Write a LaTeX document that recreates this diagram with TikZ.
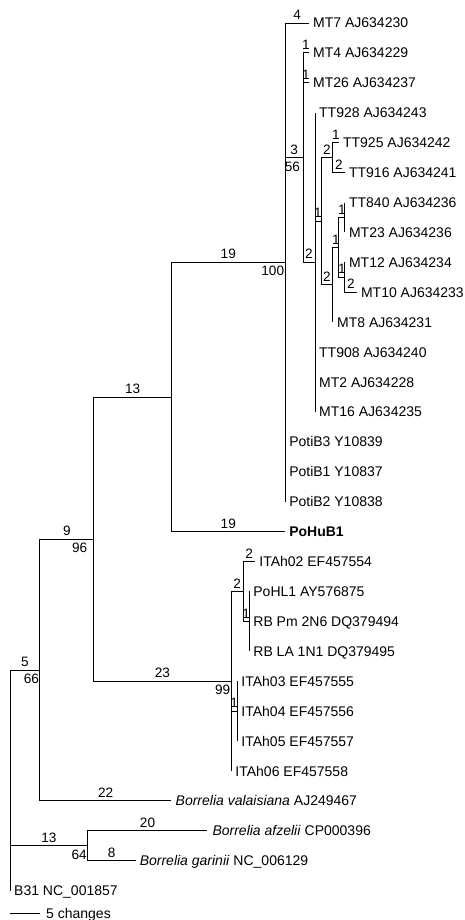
\documentclass[tikz,border=0pt]{standalone}
\usepackage{fontspec}
\setmainfont{Liberation Sans}
\begin{document}
\begin{tikzpicture}[x=1pt,y=-1pt,
  br/.style={draw=black, line width=0.9pt},
  leaf/.style={anchor=west, inner sep=0pt, text height=10pt, text depth=0pt, font=\fontsize{14}{15}\selectfont, xshift=4pt},
  lab/.style={anchor=base, inner sep=0pt, yshift=3.4pt, font=\fontsize{13.6}{14}\selectfont},
  boot/.style={anchor=base east, inner sep=0pt, yshift=-13.5pt, xshift=-0.8pt, font=\fontsize{13.6}{14}\selectfont}]
\useasboundingbox (0,0) rectangle (464,920);
\begin{scope}[shift={(10pt,-23pt)}, x=5.98pt, y=-29.92pt]
% internal nodes
\coordinate (R) at (0,25.3125);
\coordinate (N5) at (5,21.625);
\coordinate (N9) at (14,17.25);
\coordinate (N13) at (27,12.5);
\coordinate (N100) at (46,8);
\coordinate (N56) at (49,4.5);
\coordinate (N2a) at (51,8);
\coordinate (N1) at (52,6.625);
\coordinate (NT) at (54,4.5);
\coordinate (N2b) at (54,8.75);
\coordinate (N1c) at (55,7.5);
\coordinate (N1d) at (56,6.5);
\coordinate (N1e) at (56,8.5);
\coordinate (N23) at (37,22);
\coordinate (N2c) at (39,19);
\coordinate (N1f) at (40,20);
\coordinate (N1g) at (38,23);
\coordinate (N13b) at (13,27.5);
% tips
\coordinate (t0) at (50,0);
\coordinate (t1) at (50,1);
\coordinate (t2) at (50,2);
\coordinate (t3) at (51,3);
\coordinate (t4) at (55,4);
\coordinate (t5) at (56,5);
\coordinate (t6) at (56,6);
\coordinate (t7) at (56,7);
\coordinate (t8) at (56,8);
\coordinate (t9) at (58,9);
\coordinate (t10) at (54,10);
\coordinate (t11) at (51,11);
\coordinate (t12) at (51,12);
\coordinate (t13) at (51,13);
\coordinate (t14) at (46,14);
\coordinate (t15) at (46,15);
\coordinate (t16) at (46,16);
\coordinate (t17) at (46,17);
\coordinate (t18) at (41,18);
\coordinate (t19) at (40,19);
\coordinate (t20) at (40,20);
\coordinate (t21) at (40,21);
\coordinate (t22) at (38,22);
\coordinate (t23) at (38,23);
\coordinate (t24) at (38,24);
\coordinate (t25) at (37,25);
\coordinate (t26) at (27,26);
\coordinate (t27) at (33,27);
\coordinate (t28) at (21,28);
\coordinate (t29) at (0,29);
% leaf labels
\node[leaf] (L0) at (t0) {MT7 AJ634230};
\node[leaf] (L1) at (t1) {MT4 AJ634229};
\node[leaf] (L2) at (t2) {MT26 AJ634237};
\node[leaf] (L3) at (t3) {TT928 AJ634243};
\node[leaf] (L4) at (t4) {TT925 AJ634242};
\node[leaf] (L5) at (t5) {TT916 AJ634241};
\node[leaf] (L6) at (t6) {TT840 AJ634236};
\node[leaf] (L7) at (t7) {MT23 AJ634236};
\node[leaf] (L8) at (t8) {MT12 AJ634234};
\node[leaf] (L9) at (t9) {MT10 AJ634233};
\node[leaf] (L10) at (t10) {MT8 AJ634231};
\node[leaf] (L11) at (t11) {TT908 AJ634240};
\node[leaf] (L12) at (t12) {MT2 AJ634228};
\node[leaf] (L13) at (t13) {MT16 AJ634235};
\node[leaf] (L14) at (t14) {PotiB3 Y10839};
\node[leaf] (L15) at (t15) {PotiB1 Y10837};
\node[leaf] (L16) at (t16) {PotiB2 Y10838};
\node[leaf] (L17) at (t17) {\textbf{PoHuB1}};
\node[leaf] (L18) at (t18) {ITAh02 EF457554};
\node[leaf] (L19) at (t19) {PoHL1 AY576875};
\node[leaf] (L20) at (t20) {RB Pm 2N6 DQ379494};
\node[leaf] (L21) at (t21) {RB LA 1N1 DQ379495};
\node[leaf] (L22) at (t22) {ITAh03 EF457555};
\node[leaf] (L23) at (t23) {ITAh04 EF457556};
\node[leaf] (L24) at (t24) {ITAh05 EF457557};
\node[leaf] (L25) at (t25) {ITAh06 EF457558};
\node[leaf] (L26) at (t26) {\textit{Borrelia valaisiana} AJ249467};
\node[leaf,xshift=1pt] (L27) at (t27) {\textit{Borrelia afzelii} CP000396};
\node[leaf] (L28) at (t28) {\textit{Borrelia garinii} NC\_006129};
\node[leaf] (L29) at (t29) {B31 NC\_001857};
% branches
\draw[br] (R) |- node[lab,pos=.75]{5} (N5);
\draw[br] (R) |- node[lab,pos=.75]{13} (N13b);
\draw[br] (R) |- (t29);
\draw[br] (N5) |- node[lab,pos=.75]{9} (N9);
\draw[br] (N5) |- node[lab,pos=.75]{22} (t26);
\draw[br] (N13b) |- node[lab,pos=.75]{20} (t27);
\draw[br] (N13b) |- node[lab,pos=.75]{8} (t28);
\draw[br] (N9) |- node[lab,pos=.75]{13} (N13);
\draw[br] (N9) |- node[lab,pos=.75]{23} (N23);
\draw[br] (N13) |- node[lab,pos=.75]{19} (N100);
\draw[br] (N13) |- node[lab,pos=.75]{19} (t17);
\draw[br] (N100) |- node[lab,pos=.75]{4} (t0);
\draw[br] (N100) |- node[lab,pos=.75]{3} (N56);
\draw[br] (N100) |- (t14);
\draw[br] (N100) |- (t15);
\draw[br] (N100) |- (t16);
\draw[br] (N56) |- node[lab,pos=.75]{1} (t1);
\draw[br] (N56) |- node[lab,pos=.75]{1} (t2);
\draw[br] (N56) |- node[lab,pos=.75]{2} (N2a);
\draw[br] (N2a) |- (t3);
\draw[br] (N2a) |- node[lab,pos=.75]{1} (N1);
\draw[br] (N2a) |- (t11);
\draw[br] (N2a) |- (t12);
\draw[br] (N2a) |- (t13);
\draw[br] (N1) |- node[lab,pos=.75]{2} (NT);
\draw[br] (N1) |- node[lab,pos=.75]{2} (N2b);
\draw[br] (NT) |- node[lab,pos=.75]{1} (t4);
\draw[br] (NT) |- node[lab,pos=.75]{2} (t5);
\draw[br] (N2b) |- node[lab,pos=.75]{1} (N1c);
\draw[br] (N2b) |- (t10);
\draw[br] (N1c) |- node[lab,pos=.75]{1} (N1d);
\draw[br] (N1c) |- node[lab,pos=.75]{1} (N1e);
\draw[br] (N1d) |- (t6);
\draw[br] (N1d) |- (t7);
\draw[br] (N1e) |- (t8);
\draw[br] (N1e) |- node[lab,pos=.75]{2} (t9);
\draw[br] (N23) |- node[lab,pos=.75]{2} (N2c);
\draw[br] (N23) |- node[lab,pos=.75]{1} (N1g);
\draw[br] (N23) |- (t25);
\draw[br] (N2c) |- node[lab,pos=.75]{2} (t18);
\draw[br] (N2c) |- node[lab,pos=.75]{1} (N1f);
\draw[br] (N1f) |- (t19);
\draw[br] (N1f) |- (t20);
\draw[br] (N1f) |- (t21);
\draw[br] (N1g) |- (t22);
\draw[br] (N1g) |- (t23);
\draw[br] (N1g) |- (t24);
% bootstrap values
\node[boot] (b100) at (N100) {100};
\node[boot,xshift=-2pt] (b56) at (N56) {56};
\node[boot,xshift=-5.5pt] (b96) at (N9) {96};
\node[boot] (b99) at (N23) {99};
\node[boot] (b66) at (N5) {66};
\node[boot] (b64) at (N13b) {64};
\end{scope}
% scale bar
\coordinate (sb1) at (10,913);
\coordinate (sb2) at (40,913);
\draw[br] (sb1) -- (sb2);
\node[leaf,xshift=2pt] (sbl) at (sb2) {5 changes};
\end{tikzpicture}
\end{document}
